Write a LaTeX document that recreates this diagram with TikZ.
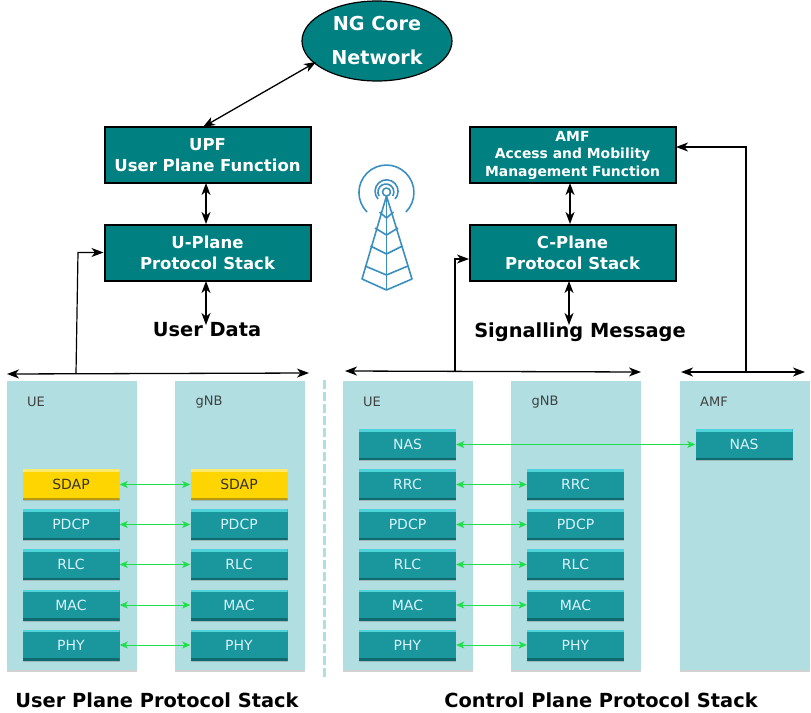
\documentclass[tikz,border=0pt]{standalone}
\usepackage{fontspec}
\setmainfont{DejaVu Sans}
\usetikzlibrary{arrows.meta,shadows,shapes.geometric}
\definecolor{functeal}{HTML}{008080}
\definecolor{panelblue}{HTML}{B0DEE1}
\definecolor{layerteal}{HTML}{1A979C}
\definecolor{layertop}{HTML}{4FD3DA}
\definecolor{layerlow}{HTML}{0F6B70}
\definecolor{sdapgold}{HTML}{FFD500}
\definecolor{sdaptop}{HTML}{FFE96A}
\definecolor{sdaplow}{HTML}{B89A10}
\definecolor{linkgreen}{HTML}{1EE04A}
\definecolor{towerblue}{HTML}{3A8FBE}
\tikzset{
  funcbox/.style={draw=black,line width=2pt,fill=functeal,text=white,minimum width=206pt,minimum height=56pt,align=center,font=\bfseries\fontsize{16.5}{21}\selectfont,inner sep=0pt},
  panel/.style={fill=panelblue,minimum width=130pt,minimum height=289pt,inner sep=0pt,drop shadow={shadow xshift=0pt,shadow yshift=-1.5pt,opacity=.35}},
  paneltitle/.style={text=black!75,font=\fontsize{13}{15}\selectfont,inner sep=0pt},
  layerbox/.style={fill=#1,minimum width=97pt,minimum height=31pt,inner sep=0pt,text=white!85!cyan,font=\fontsize{14}{16}\selectfont,drop shadow={shadow xshift=0pt,shadow yshift=-1pt,opacity=.4}},
  plainlayer/.style={layerbox=layerteal,path picture={
    \fill[layertop] (path picture bounding box.north west) rectangle ([yshift=-2.5pt]path picture bounding box.north east);
    \fill[layerlow] (path picture bounding box.south west) rectangle ([yshift=2.5pt]path picture bounding box.south east);}},
  sdaplayer/.style={layerbox=sdapgold,text=black!80,path picture={
    \fill[sdaptop] (path picture bounding box.north west) rectangle ([yshift=-2.5pt]path picture bounding box.north east);
    \fill[sdaplow] (path picture bounding box.south west) rectangle ([yshift=2.5pt]path picture bounding box.south east);}},
  heading/.style={font=\bfseries\fontsize{19.4}{22}\selectfont,inner sep=0pt},
  link/.style={draw=black,line width=1.3pt,{Stealth[length=12pt,width=9pt,inset=3.5pt]}-{Stealth[length=12pt,width=9pt,inset=3.5pt]}},
  feed/.style={draw=black,line width=1.2pt,-{Stealth[length=12pt,width=9pt,inset=3.5pt]}},
  peer/.style={draw=linkgreen,line width=1pt,{Stealth[length=8pt,width=7pt,inset=2pt]}-{Stealth[length=8pt,width=7pt,inset=2pt]}},
  tower/.style={draw=towerblue,line width=1.6pt,line join=round}
}
\begin{document}
\begin{tikzpicture}[x=1pt,y=-1pt]
\useasboundingbox (0,0) rectangle (811,712);
% top functions
\node[ellipse,draw=black,line width=1.2pt,fill=functeal,text=white,minimum width=150pt,minimum height=80pt,align=center,inner sep=0pt,font=\bfseries\fontsize{19.2}{34}\selectfont] (core) at (377,41) {NG Core\\Network};
\node[funcbox] (upf) at (207.5,155) {UPF\\User Plane Function};
\node[funcbox] (uplane) at (207.5,252.5) {U-Plane\\Protocol Stack};
\node[funcbox,font=\bfseries\fontsize{13.9}{17.5}\selectfont] (amf) at (572.5,155) {AMF\\Access and Mobility\\Management Function};
\node[funcbox] (cplane) at (572.5,252.5) {C-Plane\\Protocol Stack};
\node[heading] (userdata) at (207,330) {User Data};
\node[heading] (sigmsg) at (580,332) {Signalling Message};
\node[heading] (uptitle) at (157,700.5) {User Plane Protocol Stack};
\node[heading] (cptitle) at (601,700) {Control Plane Protocol Stack};
% panels
\node[panel] (uea) at (72,525.5) {};
\node[panel] (gnba) at (239.5,525.5) {};
\node[panel] (ueb) at (408,525.5) {};
\node[panel] (gnbb) at (576,525.5) {};
\node[panel] (amfp) at (745,525.5) {};
\node[paneltitle] (ueat) at (36,402) {UE};
\node[paneltitle] (gnbat) at (209,402) {gNB};
\node[paneltitle] (uebt) at (372,402) {UE};
\node[paneltitle] (gnbbt) at (545,402) {gNB};
\node[paneltitle] (amfpt) at (714,402) {AMF};
% user plane layers
\node[sdaplayer] (sdapa) at (71,484.5) {SDAP};
\node[plainlayer] (pdcpa) at (71,524.5) {PDCP};
\node[plainlayer] (rlca) at (71,564.5) {RLC};
\node[plainlayer] (maca) at (71,605) {MAC};
\node[plainlayer] (phya) at (71,645) {PHY};
\node[sdaplayer] (sdapb) at (239,484.5) {SDAP};
\node[plainlayer] (pdcpb) at (239,524.5) {PDCP};
\node[plainlayer] (rlcb) at (239,564.5) {RLC};
\node[plainlayer] (macb) at (239,605) {MAC};
\node[plainlayer] (phyb) at (239,645) {PHY};
% control plane layers
\node[plainlayer] (nasc) at (407.5,444.5) {NAS};
\node[plainlayer] (rrcc) at (407.5,484.5) {RRC};
\node[plainlayer] (pdcpc) at (407.5,524.5) {PDCP};
\node[plainlayer] (rlcc) at (407.5,564.5) {RLC};
\node[plainlayer] (macc) at (407.5,605) {MAC};
\node[plainlayer] (phyc) at (407.5,645) {PHY};
\node[plainlayer] (rrcd) at (575.5,484.5) {RRC};
\node[plainlayer] (pdcpd) at (575.5,524.5) {PDCP};
\node[plainlayer] (rlcd) at (575.5,564.5) {RLC};
\node[plainlayer] (macd) at (575.5,605) {MAC};
\node[plainlayer] (phyd) at (575.5,645) {PHY};
\node[plainlayer] (nase) at (744,444.5) {NAS};
% bus end points
\coordinate (ubusl) at (7,374);
\coordinate (ubusr) at (309,373);
\coordinate (ubusup) at (76,373.5);
\coordinate (ubusbend) at (78,252.5);
\coordinate (cbusl) at (345,371);
\coordinate (cbusr) at (641,372);
\coordinate (cbusup) at (455,371.5);
\coordinate (cbusbend) at (455,259);
\coordinate (cbusin) at (469,259);
\coordinate (abusl) at (681,372);
\coordinate (abusr) at (805,372);
\coordinate (abusup) at (746,372);
\coordinate (abusbend) at (746,147);
\coordinate (abusin) at (676,147);
\coordinate (corein) at (316,62);
\coordinate (upfout) at (203,127);
\coordinate (cdown) at (569,325);
\coordinate (cdownup) at (569,281);
\coordinate (uiplink) at (206,183);
\coordinate (uiplinkb) at (206,224);
\coordinate (udown) at (206,281);
\coordinate (udownb) at (206,325);
\coordinate (amflink) at (570,183);
\coordinate (amflinkb) at (570,224);
\coordinate (sepa) at (324,380);
\coordinate (sepb) at (324,677);
% connectors
\draw[link] (upfout) -- (corein);
\draw[link] (uiplink) -- (uiplinkb);
\draw[link] (udown) -- (udownb);
\draw[link] (amflink) -- (amflinkb);
\draw[link] (cdownup) -- (cdown);
\draw[link] (ubusl) -- (ubusr);
\draw[link] (cbusl) -- (cbusr);
\draw[link] (abusl) -- (abusr);
\draw[feed] (ubusup) -- (ubusbend) -- (uplane.west);
\draw[feed] (cbusup) -- (cbusbend) -- (cbusin);
\draw[feed] (abusup) -- (abusbend) -- (abusin);
\draw[panelblue,line width=3pt,dash pattern=on 9pt off 3pt] (sepa) -- (sepb);
% peer links
\draw[peer] (sdapa.east) -- (sdapb.west);
\draw[peer] (pdcpa.east) -- (pdcpb.west);
\draw[peer] (rlca.east) -- (rlcb.west);
\draw[peer] (maca.east) -- (macb.west);
\draw[peer] (phya.east) -- (phyb.west);
\draw[peer] (nasc.east) -- (nase.west);
\draw[peer] (rrcc.east) -- (rrcd.west);
\draw[peer] (pdcpc.east) -- (pdcpd.west);
\draw[peer] (rlcc.east) -- (rlcd.west);
\draw[peer] (macc.east) -- (macd.west);
\draw[peer] (phyc.east) -- (phyd.west);
% mast
\draw[tower] (386.5,192) circle (4);
\draw[tower] (378,199) arc (138:402:11.5);
\draw[tower] (379,196) arc (150:390:8);
\draw[tower] (367,212) arc (135:405:27.5);
\draw[tower] (386.5,196) -- (362,279) -- (386.5,290) -- (412,279) -- cycle;
\draw[tower] (386.5,196) -- (386.5,290);
\draw[tower] (379.5,212) -- (386.5,218) -- (393.5,212);
\draw[tower] (375,228) -- (386.5,235) -- (398,228);
\draw[tower] (370.5,246) -- (386.5,254) -- (402.5,246);
\draw[tower] (365,266) -- (386.5,275) -- (408,266);
\end{tikzpicture}
\end{document}
